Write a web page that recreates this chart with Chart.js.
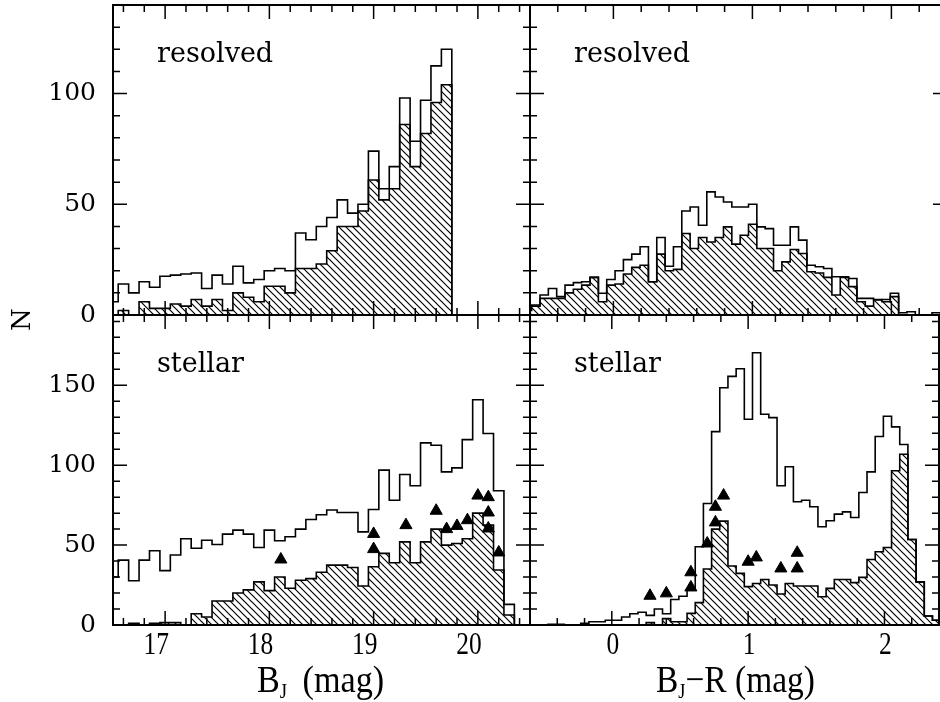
<!DOCTYPE html>
<html>
<head>
<meta charset="utf-8">
<script src="https://cdn.jsdelivr.net/npm/chart.js@4.4.1/dist/chart.umd.min.js"></script>
<style>
    html, body { margin: 0; padding: 0; background: #fff; overflow: hidden; }
    #wrap { position: relative; width: 940px; height: 702px; overflow: hidden; background: #fff; }
    #wrap canvas { position: absolute; left: 0; top: 0; width: 947px; height: 702px; }
    .axt { position: absolute; color: #000; white-space: nowrap; font-family: "Liberation Serif", serif; line-height: 1; transform-origin: 0 0; }
    .axt sub { font-size: 0.55em; vertical-align: -0.3em; }
</style>
</head>
<body>
<div id="wrap">
    <canvas id="tl" width="947" height="702"></canvas>
    <canvas id="tr" width="947" height="702"></canvas>
    <canvas id="bl" width="947" height="702"></canvas>
    <canvas id="br" width="947" height="702"></canvas>
    <div class="axt" style="left:8px; top:331px; font-family:'DejaVu Serif', serif; font-size:26px; transform:rotate(-90deg);">N</div>
    <div class="axt" style="left:257px; top:660px; font-size:38px; transform:scaleX(0.9);">B<sub>J</sub>&thinsp; (mag)</div>
    <div class="axt" style="left:656px; top:660px; font-size:38px; transform:scaleX(0.88);">B<sub>J</sub>&minus;R (mag)</div>
</div>
<script>
// B_J histograms: 0.1 mag bins, first bin centred on 16.5
const bjBinStart = 16.45
const bjBinWidth = 0.1
const bjResolvedAll = [6, 14, 10, 15, 12.5, 17.5, 18, 18.5, 19, 12, 18, 14, 22, 14.5, 16, 20, 21, 20, 37, 34, 40, 44, 52, 46, 50, 74, 57, 67, 98, 78.5, 97, 112.5, 120]
const bjResolvedSel = [0, 2, 0, 6, 3, 3, 5, 4, 7, 4, 7, 2, 10, 8, 6, 13, 13, 10, 21, 21, 23, 29, 40, 40, 47, 61, 52, 57, 86, 67, 82, 96, 104]
const bjStellarAll = [30, 40.6, 27.7, 40.6, 46.5, 34, 43.8, 54, 48, 53, 50.4, 56.9, 59.4, 56.9, 48.5, 59.4, 52.7, 55.2, 60, 66, 69, 72, 70.4, 70.4, 58.3, 72.3, 96.9, 78.1, 94.2, 87.1, 114, 112.5, 95.8, 98.3, 116, 141, 119.8, 84, 12.9]
const bjStellarSel = [0, 0, 1, 0, 1, 1.5, 1.5, 0, 7, 5, 15, 15, 20, 22, 27, 21.5, 30, 23, 28, 29, 33, 37.5, 37.5, 36, 24.4, 36.5, 44.8, 39, 52, 39, 52, 60, 50, 51, 54, 70, 62.5, 34.4, 6.3]
const bjTriX = [18.11, 19.0, 19.0, 19.31, 19.6, 19.7, 19.8, 19.9, 20.0, 20.1, 20.1, 20.1, 20.2]
const bjTriY = [41, 57, 47.5, 62.5, 71.5, 60, 62, 65.6, 81, 80, 70.4, 60.4, 45.4]

// B_J-R histograms: 0.06 mag bins
const colBinStart = -0.648
const colBinWidth = 0.06
const colResolvedAll = [4, 4.5, 9, 12, 8.3, 13.5, 14.6, 15, 17, 9.8, 16, 20, 25, 27.5, 30.8, 15, 35, 22, 30.8, 47, 48.8, 40.5, 55.6, 53.3, 51, 48.8, 48.8, 50, 39.8, 39, 31.5, 31.5, 39.8, 33.8, 22.5, 21.8, 21, 17.3, 17.3, 16.5, 7.5, 7.5, 6.8, 7, 9.8, 1, 1.5, 0, 0, 1, 0]
const colResolvedSel = [2, 4, 7.5, 7.5, 7.5, 10, 11.6, 13.5, 17, 6, 13.5, 14, 18.5, 21.5, 22.5, 15, 27.5, 20, 20.6, 36.8, 30, 35, 33, 35, 39.8, 32, 36, 41, 30, 30, 20, 24, 29.6, 27.8, 19.5, 19, 17, 9, 17, 12.8, 6, 4, 7, 6, 8.3]
const colStellarAll = [0, 0, 0, 0.5, 0.5, 0, 0, 1, 2, 2, 3, 3, 5, 7, 8, 6, 10, 7, 16, 18, 22, 49, 76, 121, 148.5, 155.6, 160.4, 128.8, 170.4, 131.9, 129.8, 87.1, 99, 77.1, 78.1, 74, 61.5, 65.2, 69.4, 70.8, 67.3, 82.9, 95.8, 118, 130.6, 124, 113, 53.5, 27, 5.6, 3]
const colStellarSel = [0, 0, 0, 0, 0, 0, 0, 0, 0, 0, 0, 0, 0, 0, 0, 1.5, 0, 4, 2, 2, 7.3, 14, 35, 60, 65, 36.9, 32.3, 24, 26, 28.5, 25, 19.4, 26, 24.4, 24.4, 24.4, 17.7, 22.9, 28.5, 28.5, 26.5, 29.8, 41, 45.8, 48.5, 96.5, 106.9, 53.5, 27, 5.6, 3]
const colTriX = [0.28, 0.40, 0.58, 0.58, 0.70, 0.76, 0.76, 0.82, 1.0, 1.06, 1.24, 1.36, 1.36]
const colTriY = [18.3, 19.8, 23.5, 33, 51, 64.2, 74, 81, 39.6, 42.3, 35.4, 45.2, 35.4]

// turn bin counts into step points (left edge of each bin, then drop to zero)
const histPoints = (start, width, counts) => {
    const pts = [{ x: start, y: 0 }]
    counts.forEach((c, i) => pts.push({ x: start + i * width, y: c }))
    pts.push({ x: start + counts.length * width, y: 0 })
    return pts
}

const zip = (xs, ys) => xs.map((x, i) => ({ x, y: ys[i] }))

// diagonal hatching for the selected subsample
const makeHatch = () => {
    const s = 7
    const c = document.createElement("canvas")
    c.width = s
    c.height = s
    const g = c.getContext("2d")
    g.strokeStyle = "#000"
    g.lineWidth = 1.2
    g.beginPath()
    g.moveTo(-1, -1)
    g.lineTo(s + 1, s + 1)
    g.moveTo(-1, s - 1)
    g.lineTo(1, s + 1)
    g.moveTo(s - 1, -1)
    g.lineTo(s + 1, 1)
    g.stroke()
    return g.createPattern(c, "repeat")
}
const hatch = makeHatch()

const tickValues = (min, max, step) => {
    const out = []
    for (let i = Math.ceil(min / step - 1e-6); i * step <= max + 1e-6; i++) {
        out.push(+(i * step).toFixed(6))
    }
    return out
}
const isMajor = (v, step) => Math.abs(v / step - Math.round(v / step)) < 1e-6

// box frame with inward ticks on all four sides, tick labels and panel name
const panelFrame = {
    id: "panelFrame",
    afterDatasetsDraw(chart, args, opts) {
        const { ctx, chartArea: a, scales } = chart
        const xs = scales.x
        const ys = scales.y
        ctx.save()
        ctx.strokeStyle = "#000"
        ctx.lineWidth = 1.5
        ctx.beginPath()
        tickValues(xs.min, xs.max, opts.xMinor).forEach((v) => {
            const px = xs.getPixelForValue(v)
            const len = isMajor(v, opts.xMajor) ? 14 : 7
            ctx.moveTo(px, a.bottom)
            ctx.lineTo(px, a.bottom - len)
            ctx.moveTo(px, a.top)
            ctx.lineTo(px, a.top + len)
        })
        tickValues(ys.min, ys.max, opts.yMinor).forEach((v) => {
            const py = ys.getPixelForValue(v)
            const len = isMajor(v, opts.yMajor) ? 14 : 7
            ctx.moveTo(a.left, py)
            ctx.lineTo(a.left + len, py)
            ctx.moveTo(a.right, py)
            ctx.lineTo(a.right - len, py)
        })
        ctx.stroke()
        ctx.lineWidth = 2
        ctx.strokeRect(a.left, a.top, a.right - a.left, a.bottom - a.top)

        ctx.fillStyle = "#000"
        if (opts.yLabels) {
            ctx.font = "25px 'DejaVu Serif'"
            ctx.textAlign = "right"
            ctx.textBaseline = "middle"
            tickValues(ys.min, ys.max, opts.yMajor).forEach((v) => {
                ctx.fillText(String(v), a.left - 17, ys.getPixelForValue(v))
            })
        }
        if (opts.xLabels) {
            // taller, narrower digits like the original plot
            ctx.font = "31px 'Liberation Serif'"
            ctx.textAlign = "center"
            ctx.textBaseline = "middle"
            tickValues(xs.min, xs.max, opts.xMajor).forEach((v) => {
                const label = String(v)
                const px = xs.getPixelForValue(v)
                ctx.save()
                ctx.translate(px + (label.length > 1 ? -9 : 1), a.bottom + 21)
                ctx.scale(0.82, 1)
                ctx.fillText(label, 0, 0)
                ctx.restore()
            })
        }
        ctx.font = "27px 'DejaVu Serif'"
        ctx.textAlign = "left"
        ctx.textBaseline = "alphabetic"
        ctx.fillText(opts.title, a.left + 44, a.top + 57)
        ctx.restore()
    },
}

const makePanel = (id, p) => {
    const datasets = [
        {
            data: histPoints(p.start, p.width, p.sel),
            stepped: "before",
            borderColor: "#000",
            borderWidth: 1.6,
            backgroundColor: hatch,
            fill: "origin",
            pointRadius: 0,
            order: 3,
        },
        {
            data: histPoints(p.start, p.width, p.all),
            stepped: "before",
            borderColor: "#000",
            borderWidth: 1.6,
            fill: false,
            pointRadius: 0,
            order: 2,
        },
    ]
    if (p.tri) {
        datasets.push({
            type: "scatter",
            data: p.tri,
            pointStyle: "triangle",
            pointRadius: 7,
            backgroundColor: "#000",
            borderColor: "#000",
            borderWidth: 1,
            order: 1,
        })
    }
    return new Chart(document.getElementById(id), {
        type: "line",
        data: { datasets },
        options: {
            responsive: false,
            animation: false,
            devicePixelRatio: 1,
            events: [],
            layout: { padding: p.padding },
            plugins: {
                legend: { display: false },
                tooltip: { enabled: false },
                panelFrame: p.frame,
            },
            scales: {
                x: { type: "linear", display: false, min: p.xMin, max: p.xMax },
                y: { type: "linear", display: false, min: 0, max: p.yMax },
            },
        },
        plugins: [panelFrame],
    })
}

makePanel("tl", {
    start: bjBinStart, width: bjBinWidth, all: bjResolvedAll, sel: bjResolvedSel,
    xMin: 16.5, xMax: 20.5, yMax: 140,
    padding: { left: 113, top: 5, right: 417, bottom: 387 },
    frame: { title: "resolved", xMinor: 0.2, xMajor: 1, yMinor: 10, yMajor: 50, yLabels: true, xLabels: false },
})
makePanel("tr", {
    start: colBinStart, width: colBinWidth, all: colResolvedAll, sel: colResolvedSel,
    xMin: -0.6, xMax: 2.4, yMax: 140,
    padding: { left: 530, top: 5, right: 0, bottom: 387 },
    frame: { title: "resolved", xMinor: 0.2, xMajor: 1, yMinor: 10, yMajor: 50, yLabels: false, xLabels: false },
})
makePanel("bl", {
    start: bjBinStart, width: bjBinWidth, all: bjStellarAll, sel: bjStellarSel, tri: zip(bjTriX, bjTriY),
    xMin: 16.5, xMax: 20.5, yMax: 194,
    padding: { left: 113, top: 315, right: 417, bottom: 77 },
    frame: { title: "stellar", xMinor: 0.2, xMajor: 1, yMinor: 10, yMajor: 50, yLabels: true, xLabels: true },
})
makePanel("br", {
    start: colBinStart, width: colBinWidth, all: colStellarAll, sel: colStellarSel, tri: zip(colTriX, colTriY),
    xMin: -0.6, xMax: 2.4, yMax: 194,
    padding: { left: 530, top: 315, right: 0, bottom: 77 },
    frame: { title: "stellar", xMinor: 0.2, xMajor: 1, yMinor: 10, yMajor: 50, yLabels: false, xLabels: true },
})
</script>
</body>
</html>
